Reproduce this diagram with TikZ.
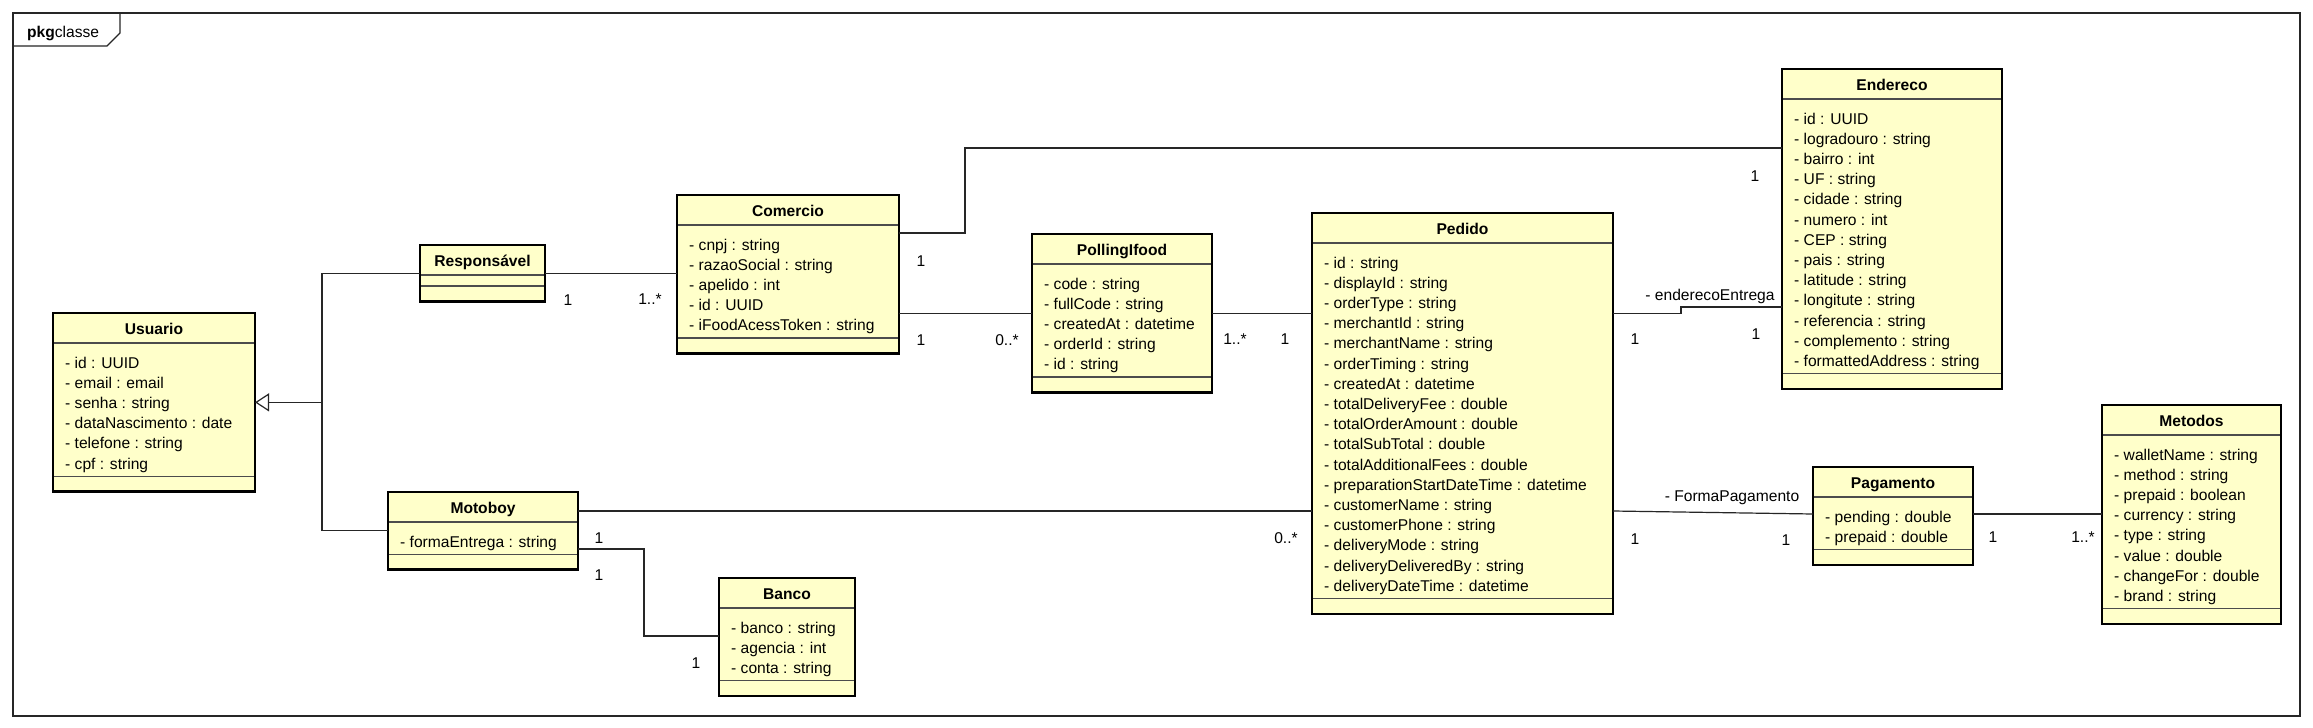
\documentclass[tikz,border=0pt]{standalone}
\usepackage{fontspec}
\setmainfont{Liberation Sans}
\usetikzlibrary{calc}
\usetikzlibrary{arrows.meta}
\definecolor{classfill}{RGB}{255,255,202}
\newcommand{\umlfont}{\fontsize{15.6}{18}\selectfont}
\tikzset{
  classbox/.style={fill=classfill, inner sep=0pt, outer sep=0pt},
  classborder/.style={draw=black, line width=2.6pt},
  classtitle/.style={anchor=base, inner sep=0pt, font=\umlfont\bfseries},
  classattr/.style={anchor=base west, inner sep=0pt, font=\umlfont},
  sepline/.style={draw=black!70, line width=1.1pt},
  assoc/.style={draw=black!85, line width=1.2pt},
  mult/.style={anchor=base, inner sep=0pt, font=\umlfont},
  frameline/.style={draw=black!85, line width=1.3pt}
}
% name, left, top, width, title, rows, attributes
\newcommand{\umlclass}[7]{%
  \pgfmathsetmacro{\attrh}{#6==0 ? 11 : #6*20.2+12}
  \pgfmathsetmacro{\clsh}{30+\attrh+15.5}
  \node[classbox, minimum width=#4pt, minimum height=\clsh pt, anchor=north west] (#1) at (#2,#3) {};
  \node[classtitle] (#1-title) at ($(#1.north)+(0,21.5)$) {#5};
  \draw[sepline] ($(#1.north west)+(0,30)$) -- ($(#1.north east)+(0,30)$);
  \draw[sepline] ($(#1.north west)+(0,30+\attrh)$) -- ($(#1.north east)+(0,30+\attrh)$);
  \draw[classborder] (#1.north west) rectangle (#1.south east);
  \foreach \attr [count=\i] in {#7} {
    \node[classattr] (#1-\i) at ($(#1.north west)+(12,{55+(\i-1)*20.2})$) {\attr};
  }
}

\begin{document}
\begin{tikzpicture}[x=1pt, y=-1pt]
        \fill[white] (0,0) rectangle (2313,728);
        \useasboundingbox (0,0) rectangle (2313,728);
        % frame
        \draw[frameline] (13,13) rectangle (2300,716);
        \draw[frameline] (13,46) -- (107,46) -- (120,33) -- (120,13);
        \node[anchor=base west, inner sep=0pt, font=\umlfont] (pkgtab) at (27,37) {\textbf{pkg}classe};
        % classes
        \umlclass{usuario}{53}{313}{202}{Usuario}{6}{- id : UUID, - email : email, - senha : string, - dataNascimento : date, - telefone : string, - cpf : string}
        \umlclass{responsavel}{420}{245}{125}{Responsável}{0}{}
        \umlclass{motoboy}{388}{492}{190}{Motoboy}{1}{- formaEntrega : string}
        \umlclass{banco}{719}{578}{136}{Banco}{3}{- banco : string, - agencia : int, - conta : string}
        \umlclass{comercio}{677}{195}{222}{Comercio}{5}{- cnpj : string, - razaoSocial : string, - apelido : int, - id : UUID, - iFoodAcessToken : string}
        \umlclass{polling}{1032}{234}{180}{PollingIfood}{5}{- code : string, - fullCode : string, - createdAt : datetime, - orderId : string, - id : string}
        \umlclass{pedido}{1312}{213}{301}{Pedido}{17}{- id : string, - displayId : string, - orderType : string, - merchantId : string, - merchantName : string, - orderTiming : string, - createdAt : datetime, - totalDeliveryFee : double, - totalOrderAmount : double, - totalSubTotal : double, - totalAdditionalFees : double, - preparationStartDateTime : datetime, - customerName : string, - customerPhone : string, - deliveryMode : string, - deliveryDeliveredBy : string, - deliveryDateTime : datetime}
        \umlclass{endereco}{1782}{69}{220}{Endereco}{13}{- id : UUID, - logradouro : string, - bairro : int, - UF : string, - cidade : string, - numero : int, - CEP : string, - pais : string, - latitude : string, - longitute : string, - referencia : string, - complemento : string, - formattedAddress : string}
        \umlclass{pagamento}{1813}{467}{160}{Pagamento}{2}{- pending : double, - prepaid : double}
        \umlclass{metodos}{2102}{405}{179}{Metodos}{8}{- walletName : string, - method : string, - prepaid : boolean, - currency : string, - type : string, - value : double, - changeFor : double, - brand : string}
        % generalization
        \coordinate (genpt) at ($(usuario.east)+(67,0)$);
        \draw[assoc] (responsavel.west) -| (genpt) |- (motoboy.west);
        \draw[assoc, -{Triangle[open, length=14pt, width=18pt, fill=white]}] (genpt) -- (usuario.east);
        % associations
        \draw[assoc] (responsavel.east) -- (responsavel.east -| comercio.west);
        \coordinate (ce) at ($(comercio.north east)+(0,38)$);
        \coordinate (ec) at ($(endereco.north west)+(0,79)$);
        \draw[assoc] (ce) -- ++(66,0) |- (ec);
        \draw[assoc] (polling.west) -- (polling.west -| comercio.east);
        \draw[assoc] (polling.east) -- (polling.east -| pedido.west);
        \coordinate (pe) at (pedido.east |- polling.east);
        \coordinate (ep) at ($(endereco.north west)+(0,238)$);
        \draw[assoc] (pe) -- ++(68,0) |- (ep);
        \coordinate (mp) at ($(motoboy.north east)+(0,19)$);
        \draw[assoc] (mp) -- (mp -| pedido.west);
        \coordinate (mb) at ($(motoboy.north east)+(0,57)$);
        \coordinate (bm) at ($(banco.north west)+(0,58)$);
        \draw[assoc] (mb) -- ++(66,0) |- (bm);
        \coordinate (pp) at (pedido.east |- mp);
        \coordinate (pg) at ($(pagamento.north west)+(0,47)$);
        \draw[assoc] (pp) -- (pg);
        \coordinate (gm) at ($(pagamento.north east)+(0,47)$);
        \draw[assoc] (gm) -- (gm -| metodos.west);
        % multiplicities
        \node[mult] (m1) at (568,305) {1};
        \node[mult] (m2) at (650,304) {1..*};
        \node[mult] (m3) at (921,266) {1};
        \node[mult] (m4) at (1755,181) {1};
        \node[mult] (m5) at (921,345) {1};
        \node[mult] (m6) at (1007,345) {0..*};
        \node[mult] (m7) at (1235,344) {1..*};
        \node[mult] (m8) at (1285,344) {1};
        \node[mult] (m9) at (1635,344) {1};
        \node[mult] (m10) at (1756,339) {1};
        \node[mult] (m11) at (599,543) {1};
        \node[mult] (m12) at (1286,543) {0..*};
        \node[mult] (m13) at (599,580) {1};
        \node[mult] (m14) at (696,668) {1};
        \node[mult] (m15) at (1635,544) {1};
        \node[mult] (m16) at (1786,545) {1};
        \node[mult] (m17) at (1993,542) {1};
        \node[mult] (m18) at (2083,542) {1..*};
        % role names
        \node[mult] (r1) at (1710,300) {- enderecoEntrega};
        \node[mult] (r2) at (1732,501) {- FormaPagamento};
\end{tikzpicture}
\end{document}
